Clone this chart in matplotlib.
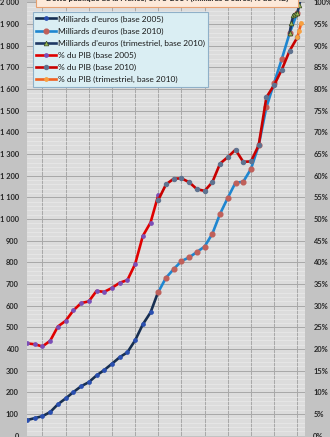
import matplotlib
matplotlib.use("Agg")
import matplotlib.pyplot as plt
from matplotlib.ticker import FuncFormatter, MultipleLocator
from matplotlib.patches import Rectangle

plt.rcParams['font.family'] = ['Lato', 'DejaVu Sans']

# --- Données : dette publique de la France ---
years_b2005 = list(range(1978, 1996))
debt_b2005 = [72, 81, 90, 109, 145, 172, 201, 228, 247, 278, 303, 332, 362, 385,
              440, 514, 569, 665]
pct_b2005 = [21.3, 21.1, 20.6, 21.9, 25.2, 26.5, 28.9, 30.6, 31.0, 33.4, 33.2,
             34.1, 35.3, 35.9, 39.6, 46.1, 49.2, 55.5]

years_b2010 = list(range(1995, 2014))
debt_b2010 = [663, 729, 769, 806, 823, 848, 873, 932, 1024, 1098, 1168, 1172,
              1231, 1340, 1516, 1628, 1739, 1857, 1952]
pct_b2010 = [54.4, 58.0, 59.3, 59.4, 58.5, 56.9, 56.5, 58.5, 62.8, 64.3, 66.0,
             63.2, 63.3, 67.0, 78.1, 80.9, 84.5, 88.8, 91.9]

quarters_debt = ["2012T4", "2013T1", "2013T2", "2013T3", "2013T4", "2014T1", "2014T2"]
debt_quarterly = [1857, 1906, 1941, 1945, 1949, 1988, 2025]
quarters_pct = ["2013T4", "2014T1", "2014T2"]
pct_quarterly = [91.9, 93.5, 95.2]

title = "Dette publique de la France, 1978-2014 (milliards d'euros, % du PIB)"


def quarter_pos(label):
    # fin de trimestre, sur la même échelle que les points annuels (fin d'année)
    y, q = int(label[:4]), int(label[-1])
    return y - 1 + q / 4


W, H = 330, 437
fig = plt.figure(figsize=(W / 100, H / 100), dpi=100)
fig.patch.set_facecolor("#C3C3C3")

ax = fig.add_axes([27 / W, 1.3 / H, 278 / W, 433.3 / H])
ax.set_facecolor("#DCDCDC")
ax.set_xlim(1978, 2014)
ax.set_ylim(0, 2000)
ax.xaxis.set_major_locator(MultipleLocator(3))
ax.yaxis.set_major_locator(MultipleLocator(100))
ax.yaxis.set_minor_locator(MultipleLocator(20))
ax.grid(axis='y', which='minor', color="#E9E9E9", lw=0.5, zorder=0)
ax.grid(axis='y', which='major', color="#A8A8A8", lw=0.7, zorder=0)
for xv in ax.get_xticks():
    ax.axvline(xv, color="#A8A8A8", lw=0.7, zorder=0.5)
ax.set_axisbelow(True)
ax.tick_params(axis='x', which='both', bottom=False, labelbottom=False)
ax.tick_params(axis='y', which='both', length=0, pad=6, labelsize=5.4,
               labelcolor="#262626")
ax.yaxis.set_major_formatter(FuncFormatter(lambda v, p: f"{int(v):,}".replace(",", " ")))
for lab in ax.get_yticklabels():
    lab.set_fontweight('bold')
for s in ax.spines.values():
    s.set_visible(False)

ax2 = ax.twinx()
ax2.set_ylim(0, 100)
ax2.yaxis.set_major_locator(MultipleLocator(5))
ax2.tick_params(axis='y', length=0, pad=6, labelsize=5.4, labelcolor="#262626")
ax2.yaxis.set_major_formatter(FuncFormatter(lambda v, p: f"{int(v)}%"))
for lab in ax2.get_yticklabels():
    lab.set_fontweight('bold')
for s in ax2.spines.values():
    s.set_visible(False)

lw = 1.9
h1, = ax2.plot(years_b2005, [d / 20 for d in debt_b2005], color="#172F52", lw=lw,
               marker='o', ms=2.4, mfc="#2A4FB0", mec="#2A4FB0", zorder=3,
               label="Milliards d'euros (base 2005)")
h2, = ax2.plot(years_b2010, [d / 20 for d in debt_b2010], color="#1E86D0", lw=lw,
               marker='o', ms=3.4, mfc="#C0605A", mec="#C0605A", zorder=3,
               label="Milliards d'euros (base 2010)")
h3, = ax2.plot([quarter_pos(q) for q in quarters_debt], [d / 20 for d in debt_quarterly],
               color="#1F3864", lw=lw, marker='^', ms=3.4, mfc="#9BBB59",
               mec="#3A4A20", mew=0.5, zorder=4,
               label="Milliards d'euros (trimestriel, base 2010)")
h4, = ax2.plot(years_b2005, pct_b2005, color="#E00000", lw=lw, marker='o', ms=2.4,
               mfc="#7A4FB8", mec="#7A4FB8", zorder=3, label="% du PIB (base 2005)")
h5, = ax2.plot(years_b2010, pct_b2010, color="#C80000", lw=lw, marker='o', ms=2.9,
               mfc="#5F7390", mec="#5F7390", zorder=3, label="% du PIB (base 2010)")
h6, = ax2.plot([quarter_pos(q) for q in quarters_pct], pct_quarterly, color="#F06020",
               lw=lw, marker='o', ms=2.4, mfc="#F7A040", mec="#F7A040", zorder=3,
               label="% du PIB (trimestriel, base 2010)")

# Légende
leg = fig.legend(handles=[h1, h2, h3, h4, h5, h6], loc='upper left',
                 bbox_to_anchor=(33 / W, 1 - 12 / H), borderaxespad=0,
                 fontsize=6.0, frameon=True, fancybox=False, handlelength=2.3,
                 handletextpad=0.25, labelspacing=0.6, borderpad=0.4,
                 facecolor="#DAEEF3", edgecolor="#8FB0C8", framealpha=1)
leg.get_frame().set_linewidth(0.8)
for t in leg.get_texts():
    t.set_color("#1A1A1A")

# Cartouche du titre (en haut, partiellement hors cadre)
fig.patches.append(Rectangle((36 / W, 1 - 7 / H), 262 / W, 0.05,
                             transform=fig.transFigure, facecolor="#FDE9D9",
                             edgecolor="#E6A070", lw=0.8, zorder=5))
fig.text(167 / W, 1 - 1.2 / H, title, ha='center', va='baseline', fontsize=5.8,
         fontweight='bold', color="#262626", zorder=6)

fig.savefig("out.png", dpi=100, facecolor=fig.get_facecolor())
